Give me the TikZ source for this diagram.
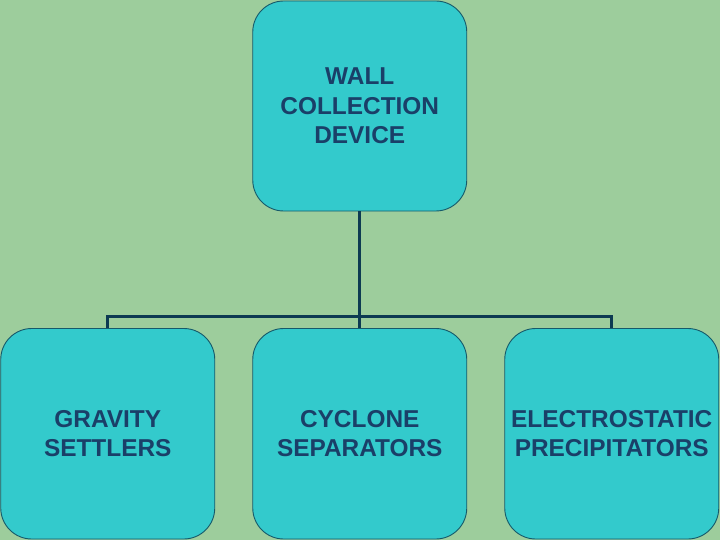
\documentclass[tikz,border=0pt]{standalone}
\usepackage{fontspec}
\setmainfont{Liberation Sans}
\definecolor{bgc}{HTML}{9DCD9C}
\definecolor{boxc}{HTML}{33CACC}
\definecolor{edgec}{HTML}{165A6A}
\definecolor{linec}{HTML}{0D3A52}
\definecolor{txtc}{HTML}{1A3F68}
\begin{document}
\begin{tikzpicture}[x=1bp,y=-1bp,
  cat/.style={draw=edgec,line width=0.9bp,fill=boxc,rounded corners=31bp,
    minimum width=214bp,minimum height=210bp,inner sep=0pt,
    align=center,text=txtc,font=\bfseries\fontsize{24.5}{29.5}\selectfont},
  conn/.style={draw=linec,line width=2.6bp}]
\fill[bgc] (0,0) rectangle (720,540);
\useasboundingbox (0,0) rectangle (720,540);
\node[cat] (top) at (359.75,106) {WALL\\COLLECTION\\DEVICE};
\node[cat,minimum height=210.5bp] (b1) at (107.75,433.75) {GRAVITY\\SETTLERS};
\node[cat,minimum height=210.5bp] (b2) at (359.75,433.75) {CYCLONE\\SEPARATORS};
\node[cat,minimum height=210.5bp] (b3) at (611.75,433.75) {ELECTROSTATIC\\PRECIPITATORS};
\coordinate (bus) at (359.75,316.5);
\draw[conn] (top.south) -- (bus);
\draw[conn] (b1.north) |- (b3.north |- bus) -- (b3.north);
\draw[conn] (bus) -- (b2.north);
\end{tikzpicture}
\end{document}
